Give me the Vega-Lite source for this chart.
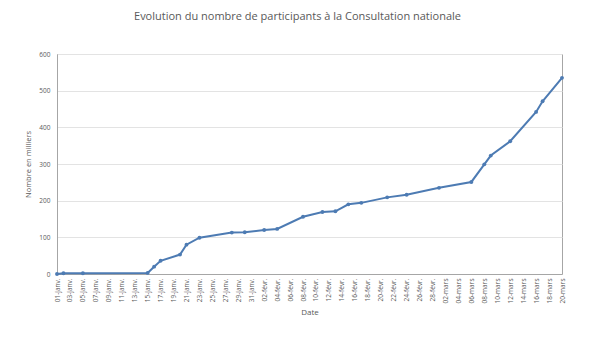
{
  "$schema": "https://vega.github.io/schema/vega-lite/v6.json",
  "width": 505,
  "height": 220,
  "autosize": "none",
  "padding": {"left": 57, "top": 54, "right": 31, "bottom": 82},
  "background": "white",
  "title": {
    "text": "Evolution du nombre de participants à la Consultation nationale",
    "font": "Open Sans",
    "fontSize": 11,
    "fontWeight": "normal",
    "color": "#595959",
    "offset": 29,
    "dx": -12
  },
  "data": {
    "values": [
      {"date": "2019-01-01", "value": 0},
      {"date": "2019-01-02", "value": 2},
      {"date": "2019-01-05", "value": 2},
      {"date": "2019-01-15", "value": 3},
      {"date": "2019-01-16", "value": 20},
      {"date": "2019-01-17", "value": 36},
      {"date": "2019-01-20", "value": 53},
      {"date": "2019-01-21", "value": 80},
      {"date": "2019-01-23", "value": 99},
      {"date": "2019-01-28", "value": 113},
      {"date": "2019-01-30", "value": 114},
      {"date": "2019-02-02", "value": 120},
      {"date": "2019-02-04", "value": 123},
      {"date": "2019-02-08", "value": 156},
      {"date": "2019-02-11", "value": 169},
      {"date": "2019-02-13", "value": 171},
      {"date": "2019-02-15", "value": 190},
      {"date": "2019-02-17", "value": 194},
      {"date": "2019-02-21", "value": 209},
      {"date": "2019-02-24", "value": 216},
      {"date": "2019-03-01", "value": 235},
      {"date": "2019-03-06", "value": 251},
      {"date": "2019-03-08", "value": 299},
      {"date": "2019-03-09", "value": 323},
      {"date": "2019-03-12", "value": 362},
      {"date": "2019-03-16", "value": 442},
      {"date": "2019-03-17", "value": 471},
      {"date": "2019-03-20", "value": 535}
    ]
  },
  "mark": {"type": "line", "color": "#4d7bb3", "strokeWidth": 2, "point": {"filled": true, "size": 15, "color": "#4d7bb3"}},
  "encoding": {
    "x": {
      "field": "date",
      "type": "temporal",
      "scale": {"type": "utc", "domain": [{"year": 2019, "month": 1, "date": 1, "utc": true}, {"year": 2019, "month": 3, "date": 20, "utc": true}]},
      "axis": {
        "title": "Date",
        "titleFont": "Open Sans",
        "titleFontSize": 8,
        "titleFontWeight": "normal",
        "titleColor": "#595959",
        "titlePadding": 6,
        "values": [
          {"year": 2019, "month": 1, "date": 1, "utc": true},
          {"year": 2019, "month": 1, "date": 3, "utc": true},
          {"year": 2019, "month": 1, "date": 5, "utc": true},
          {"year": 2019, "month": 1, "date": 7, "utc": true},
          {"year": 2019, "month": 1, "date": 9, "utc": true},
          {"year": 2019, "month": 1, "date": 11, "utc": true},
          {"year": 2019, "month": 1, "date": 13, "utc": true},
          {"year": 2019, "month": 1, "date": 15, "utc": true},
          {"year": 2019, "month": 1, "date": 17, "utc": true},
          {"year": 2019, "month": 1, "date": 19, "utc": true},
          {"year": 2019, "month": 1, "date": 21, "utc": true},
          {"year": 2019, "month": 1, "date": 23, "utc": true},
          {"year": 2019, "month": 1, "date": 25, "utc": true},
          {"year": 2019, "month": 1, "date": 27, "utc": true},
          {"year": 2019, "month": 1, "date": 29, "utc": true},
          {"year": 2019, "month": 1, "date": 31, "utc": true},
          {"year": 2019, "month": 2, "date": 2, "utc": true},
          {"year": 2019, "month": 2, "date": 4, "utc": true},
          {"year": 2019, "month": 2, "date": 6, "utc": true},
          {"year": 2019, "month": 2, "date": 8, "utc": true},
          {"year": 2019, "month": 2, "date": 10, "utc": true},
          {"year": 2019, "month": 2, "date": 12, "utc": true},
          {"year": 2019, "month": 2, "date": 14, "utc": true},
          {"year": 2019, "month": 2, "date": 16, "utc": true},
          {"year": 2019, "month": 2, "date": 18, "utc": true},
          {"year": 2019, "month": 2, "date": 20, "utc": true},
          {"year": 2019, "month": 2, "date": 22, "utc": true},
          {"year": 2019, "month": 2, "date": 24, "utc": true},
          {"year": 2019, "month": 2, "date": 26, "utc": true},
          {"year": 2019, "month": 2, "date": 28, "utc": true},
          {"year": 2019, "month": 3, "date": 2, "utc": true},
          {"year": 2019, "month": 3, "date": 4, "utc": true},
          {"year": 2019, "month": 3, "date": 6, "utc": true},
          {"year": 2019, "month": 3, "date": 8, "utc": true},
          {"year": 2019, "month": 3, "date": 10, "utc": true},
          {"year": 2019, "month": 3, "date": 12, "utc": true},
          {"year": 2019, "month": 3, "date": 14, "utc": true},
          {"year": 2019, "month": 3, "date": 16, "utc": true},
          {"year": 2019, "month": 3, "date": 18, "utc": true},
          {"year": 2019, "month": 3, "date": 20, "utc": true}
        ],
        "labelExpr": "utcFormat(datum.value, '%d') + '-' + (utcmonth(datum.value) == 0 ? 'janv.' : utcmonth(datum.value) == 1 ? 'févr.' : 'mars')",
        "labelAngle": 270,
        "labelFont": "Open Sans",
        "labelFontSize": 6.5,
        "labelColor": "#595959",
        "labelOverlap": false,
        "labelPadding": 4,
        "labelBound": false,
        "labelFlush": false,
        "grid": false,
        "ticks": false,
        "domainColor": "#a6a6a6"
      }
    },
    "y": {
      "field": "value",
      "type": "quantitative",
      "scale": {"domain": [0, 600]},
      "axis": {
        "title": "Nombre en milliers",
        "titleFont": "Open Sans",
        "titleFontSize": 7.5,
        "titleFontWeight": "normal",
        "titleColor": "#595959",
        "titlePadding": 6,
        "values": [0, 100, 200, 300, 400, 500, 600],
        "labelFont": "Open Sans",
        "labelFontSize": 6.5,
        "labelColor": "#595959",
        "labelPadding": 7,
        "ticks": false,
        "gridColor": "#e3e3e3",
        "domainColor": "#a6a6a6"
      }
    }
  },
  "config": {
    "view": {"stroke": "#a6a6a6", "strokeWidth": 1}
  }
}
